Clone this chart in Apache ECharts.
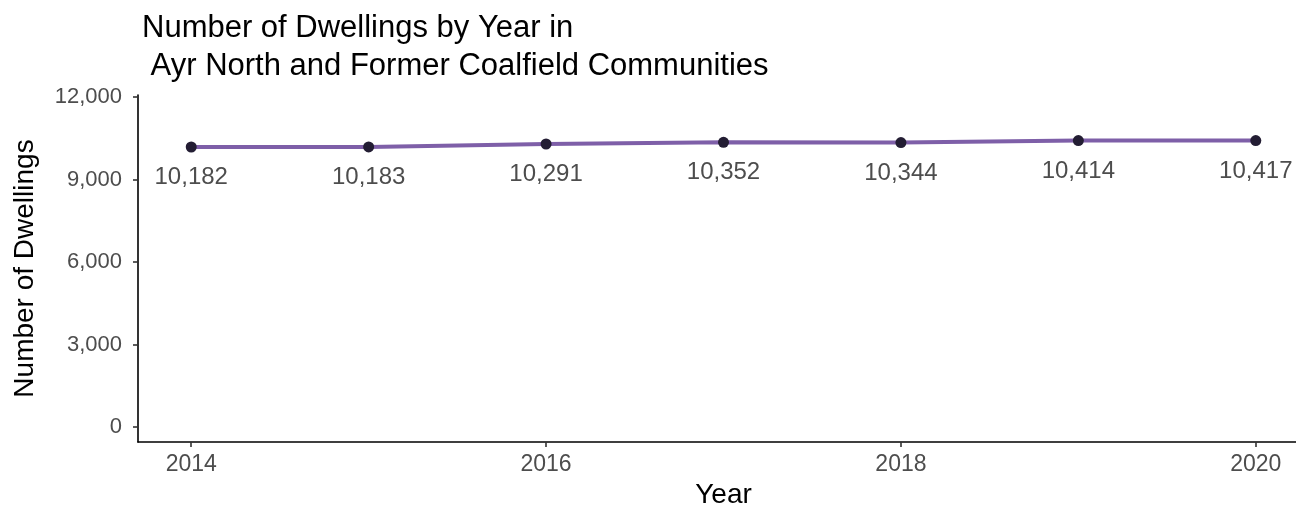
<!DOCTYPE html>
<html>
<head>
<meta charset="utf-8">
<script src="https://cdn.jsdelivr.net/npm/echarts@6/dist/echarts.min.js"></script>
<style>html,body{margin:0;padding:0;background:#fff}#c{width:1296px;height:508px}</style>
</head>
<body>
<div id="c"></div>
<script>
const years = [2014, 2015, 2016, 2017, 2018, 2019, 2020];
const dwellings = [10182, 10183, 10291, 10352, 10344, 10414, 10417];
const xTicks = [2014, 2016, 2018, 2020];
const yTicks = [0, 3000, 6000, 9000, 12000];
const titleText = 'Number of Dwellings by Year in\n Ayr North and Former Coalfield Communities';

const FONT = '"Liberation Sans", Arial, sans-serif';
const fmt = v => Number(v).toLocaleString('en-US');

const chart = echarts.init(document.getElementById('c'), null, {renderer: 'canvas'});
chart.setOption({
  backgroundColor: '#ffffff',
  animation: false,
  title: {
    text: titleText,
    left: 137, top: 4,
    textStyle: {fontFamily: FONT, fontSize: 31, fontWeight: 'normal', color: '#000', lineHeight: 38}
  },
  grid: {left: 138, top: 95, width: 1171, height: 347, containLabel: false, outerBoundsMode: 'none'},
  xAxis: {
    type: 'value', min: 2013.7, max: 2020.3,
    name: 'Year', nameLocation: 'middle', nameGap: 39,
    nameTextStyle: {fontFamily: FONT, fontSize: 28, color: '#000'},
    axisLine: {show: true, onZero: false, lineStyle: {color: '#000', width: 1.6}},
    axisTick: {show: true, length: 5, customValues: xTicks, lineStyle: {color: '#333', width: 1.6}},
    axisLabel: {customValues: xTicks, formatter: v => String(v), fontFamily: FONT, fontSize: 23, color: '#4d4d4d', margin: 11},
    splitLine: {show: false}
  },
  yAxis: {
    type: 'value', min: -545, max: 12073,
    name: 'Number of Dwellings', nameLocation: 'middle', nameGap: 99, nameRotate: 90,
    nameTextStyle: {fontFamily: FONT, fontSize: 28, color: '#000'},
    axisLine: {show: true, onZero: false, lineStyle: {color: '#000', width: 1.6}},
    axisTick: {show: true, length: 5, customValues: yTicks, lineStyle: {color: '#333', width: 1.6}},
    axisLabel: {customValues: yTicks, formatter: v => fmt(v), fontFamily: FONT, fontSize: 22, color: '#4d4d4d', margin: 16},
    splitLine: {show: false}
  },
  series: [{
    type: 'line',
    data: years.map((y, i) => [y, dwellings[i]]),
    lineStyle: {color: '#7e5fa8', width: 4},
    symbol: 'circle', symbolSize: 11,
    itemStyle: {color: '#231d33'},
    label: {
      show: true, position: 'bottom', distance: 13,
      formatter: p => fmt(p.value[1]),
      fontFamily: FONT, fontSize: 24, color: '#4d4d4d'
    }
  }]
});
</script>
</body>
</html>
